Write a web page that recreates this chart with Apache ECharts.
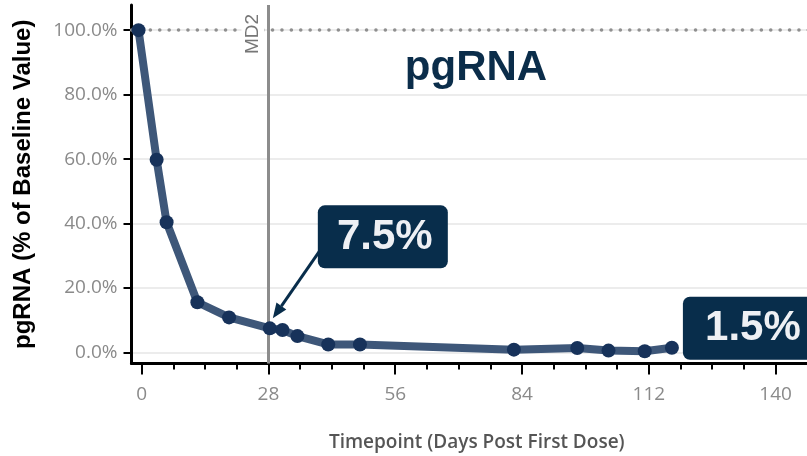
<!DOCTYPE html>
<html>
<head>
<meta charset="utf-8">
<script src="https://cdn.jsdelivr.net/npm/echarts@6/dist/echarts.min.js"></script>
<style>
  html, body { margin: 0; padding: 0; background: #fff; }
  #chart { width: 807px; height: 456px; }
</style>
</head>
<body>
<div id="chart"></div>
<script>
// pgRNA decline, % of baseline
const days = [-0.7, 3.3, 5.5, 12.3, 19.3, 28.3, 31.1, 34.4, 41.2, 48.2, 82.2, 96.2, 103.1, 111.1, 117.1];
const pct = [100, 59.8, 40.4, 15.6, 10.9, 7.5, 7.0, 5.1, 2.5, 2.5, 0.9, 1.4, 0.6, 0.4, 1.5];
const yTicks = [0, 20, 40, 60, 80, 100];
const xLabels = [0, 28, 56, 84, 112, 140];
const xMinor = [7, 14, 21, 35, 42, 49, 63, 70, 77, 91, 98, 105, 119, 126, 133, 147];
const md2Day = 28;
const calloutIdx = [5, 14];   // points that get a value box

const chartDom = document.getElementById('chart');
const myChart = echarts.init(chartDom, null, { renderer: 'canvas' });

const navy = '#082d4b';
const tickFont = { fontFamily: 'Open Sans', fontSize: 19, color: '#8a8a8a' };

const option = {
  animation: false,
  grid: { left: 131.5, right: -3, top: 5, bottom: 92.5, containLabel: false, outerBoundsMode: 'none' },
  xAxis: [
    {
      type: 'value', min: -2.25, max: 147.6,
      axisLine: { show: true, onZero: false, lineStyle: { color: '#000', width: 3 } },
      axisTick: { show: true, length: 11, lineStyle: { color: '#000', width: 2 }, customValues: xLabels },
      axisLabel: { ...tickFont, margin: 22, customValues: xLabels },
      splitLine: { show: false },
      name: 'Timepoint (Days Post First Dose)',
      nameLocation: 'middle',
      nameGap: 70,
      nameTextStyle: { fontFamily: 'Open Sans', fontWeight: 600, fontSize: 19, color: '#555', padding: [0, 0, 0, 12] }
    },
    {
      type: 'value', min: -2.25, max: 147.6, position: 'bottom',
      axisLine: { show: false, onZero: false },
      axisTick: { show: true, length: 6, lineStyle: { color: '#000', width: 2 }, customValues: xMinor },
      axisLabel: { show: false },
      splitLine: { show: false }
    }
  ],
  yAxis: {
    type: 'value', min: -3.4, max: 107.8,
    axisLine: { show: true, onZero: false, lineStyle: { color: '#000', width: 3 } },
    axisTick: { show: true, length: 8, lineStyle: { color: '#000', width: 2 }, customValues: yTicks },
    axisLabel: { ...tickFont, margin: 14, customValues: yTicks, formatter: v => v.toFixed(1) + '%' },
    splitLine: { show: true, lineStyle: { color: '#ececec', width: 2 } },
    name: 'pgRNA (% of Baseline Value)',
    nameLocation: 'middle',
    nameGap: 96,
    nameTextStyle: { fontFamily: 'Liberation Sans', fontWeight: 'bold', fontSize: 24, color: '#000' }
  },
  series: [
    {
      type: 'line',
      data: [],
      z: 1,
      markLine: {
        silent: true,
        z: 1,
        symbol: ['none', 'none'],
        animation: false,
        data: [
          {
            yAxis: 100,
            lineStyle: { type: [0.1, 9.3], color: '#8f8f8f', width: 3.5, cap: 'round' },
            label: { show: false }
          },
          {
            xAxis: md2Day,
            lineStyle: { type: 'solid', color: '#8c8c8c', width: 3 },
            label: {
              show: true, formatter: 'MD2', position: 'insideEndTop',
              fontFamily: 'Liberation Sans', fontSize: 19, color: '#777',
              backgroundColor: '#fff', padding: [2, 3], distance: [6, 4]
            }
          }
        ]
      }
    },
    {
      type: 'line',
      z: 3,
      data: days.map((d, i) => [d, pct[i]]),
      lineStyle: { color: '#3e5779', width: 8 },
      itemStyle: { color: '#17325a' },
      symbol: 'circle',
      symbolSize: 14,
      showAllSymbol: true
    }
  ]
};

option && myChart.setOption(option);

// callout boxes, placed relative to the points they describe
const pt = i => myChart.convertToPixel({ seriesIndex: 1 }, [days[i], pct[i]]);
const p1 = pt(calloutIdx[0]);
const p2 = pt(calloutIdx[1]);
const tip = [p1[0] + 3, p1[1] - 10];
const start = [p1[0] + 53, p1[1] - 82];
const dx = tip[0] - start[0], dy = tip[1] - start[1];
const len = Math.sqrt(dx * dx + dy * dy);
const ux = dx / len, uy = dy / len;
const headL = 15, headW = 6;
const base = [tip[0] - ux * headL, tip[1] - uy * headL];

const boxStyle = { fill: navy };
const boxText = (txt, cx, cy) => ({
  type: 'text', z: 11,
  style: { text: txt, x: cx, y: cy, align: 'center', verticalAlign: 'middle',
    font: 'bold 42px "Liberation Sans"', fill: '#eef0f4' }
});

myChart.setOption({
  graphic: [
    { type: 'text', z: 10,
      style: { text: 'pgRNA', x: 476, y: 68, align: 'center', verticalAlign: 'middle',
        font: 'bold 42px "Liberation Sans"', fill: '#0b2d4a' } },
    { type: 'line', z: 10,
      shape: { x1: start[0], y1: start[1], x2: base[0], y2: base[1] },
      style: { stroke: navy, lineWidth: 3 } },
    { type: 'polygon', z: 10,
      shape: { points: [tip, [base[0] - uy * headW, base[1] + ux * headW], [base[0] + uy * headW, base[1] - ux * headW]] },
      style: { fill: navy } },
    { type: 'rect', z: 10,
      shape: { x: p1[0] + 48, y: p1[1] - 123, width: 130, height: 63, r: 7 }, style: boxStyle },
    boxText(pct[calloutIdx[0]].toFixed(1) + '%', p1[0] + 115, p1[1] - 91),
    { type: 'rect', z: 10,
      shape: { x: p2[0] + 11, y: p2[1] - 51, width: 150, height: 63, r: 7 }, style: boxStyle },
    boxText(pct[calloutIdx[1]].toFixed(1) + '%', p2[0] + 81, p2[1] - 19)
  ]
});
</script>
</body>
</html>
